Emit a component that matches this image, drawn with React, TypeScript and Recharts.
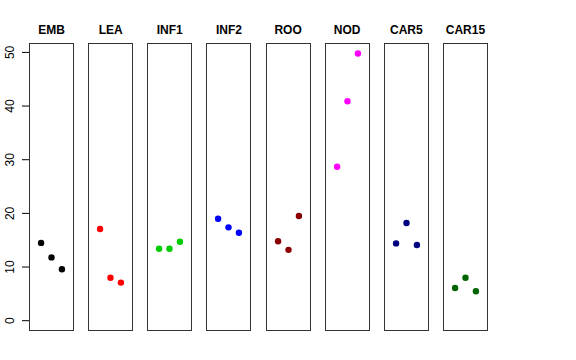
import { ScatterChart, Scatter, XAxis, YAxis } from 'recharts';

// panel names and the three values shown in each panel
const categories = ['EMB', 'LEA', 'INF1', 'INF2', 'ROO', 'NOD', 'CAR5', 'CAR15'];

const EMB = [14.5, 11.8, 9.6];
const LEA = [17.1, 8.0, 7.1];
const INF1 = [13.4, 13.4, 14.7];
const INF2 = [19.0, 17.4, 16.4];
const ROO = [14.8, 13.2, 19.5];
const NOD = [28.7, 40.9, 49.8];
const CAR5 = [14.4, 18.2, 14.1];
const CAR15 = [6.1, 8.0, 5.5];

const seriesValues = [EMB, LEA, INF1, INF2, ROO, NOD, CAR5, CAR15];

const colors = ['#000000', '#FF0000', '#00CD00', '#0000FF', '#8B0000', '#FF00FF', '#000080', '#006400'];

const yTicks = [0, 10, 20, 30, 40, 50];

const FONT = '"Liberation Sans", Arial, Helvetica, sans-serif';

// layout of the panels (R base graphics style)
const PANEL_TOP = 43;
const PANEL_H = 288;
const PANEL_W = 45;
const FIRST_LEFT = 29;
const STEP = 59.14;
const AXIS_W = 29;

const RotatedTick = (props: any) => {
  const { y, payload } = props;
  return (
    <text
      x={14}
      y={y}
      transform={`rotate(-90, 14, ${y})`}
      textAnchor="middle"
      fontSize={12}
      fontFamily={FONT}
      fill="#000"
    >
      {payload.value}
    </text>
  );
};

function Panel({ index }: { index: number }) {
  const left = FIRST_LEFT + index * STEP;
  const first = index === 0;
  const data = seriesValues[index].map((v, i) => ({ x: i + 1, y: v }));
  const color = colors[index];

  return (
    <>
      <div
        style={{
          position: 'absolute',
          left: left - 10,
          width: PANEL_W + 20,
          top: 22,
          textAlign: 'center',
          fontFamily: FONT,
          fontWeight: 'bold',
          fontSize: 12,
          lineHeight: '16px',
        }}
      >
        {categories[index]}
      </div>
      <div style={{ position: 'absolute', left: first ? 0 : left, top: PANEL_TOP }}>
        <ScatterChart
          width={first ? left + PANEL_W : PANEL_W}
          height={PANEL_H}
          margin={{ top: 0, right: 0, bottom: 0, left: 0 }}
        >
          <XAxis type="number" dataKey="x" domain={[-0.16, 4.16]} allowDataOverflow hide />
          <YAxis
            type="number"
            dataKey="y"
            domain={[-1.92, 51.75]}
            allowDataOverflow
            hide={!first}
            width={AXIS_W}
            ticks={yTicks}
            interval={0}
            tickSize={7}
            tickLine={{ stroke: '#000' }}
            axisLine={false}
            tick={<RotatedTick />}
          />
          <Scatter
            data={data}
            isAnimationActive={false}
            shape={(p: any) => <circle cx={p.cx} cy={p.cy} r={3.2} fill={color} />}
          />
        </ScatterChart>
      </div>
      <div
        style={{
          position: 'absolute',
          left: left,
          top: PANEL_TOP,
          width: PANEL_W,
          height: PANEL_H,
          border: '1px solid #333',
          boxSizing: 'border-box',
          pointerEvents: 'none',
        }}
      />
    </>
  );
}

export default function App() {
  return (
    <div
      style={{
        position: 'absolute',
        left: 0,
        top: 0,
        width: 576,
        height: 360,
        background: '#fff',
        overflow: 'hidden',
      }}
    >
      {categories.map((c, i) => (
        <Panel key={c} index={i} />
      ))}
    </div>
  );
}
